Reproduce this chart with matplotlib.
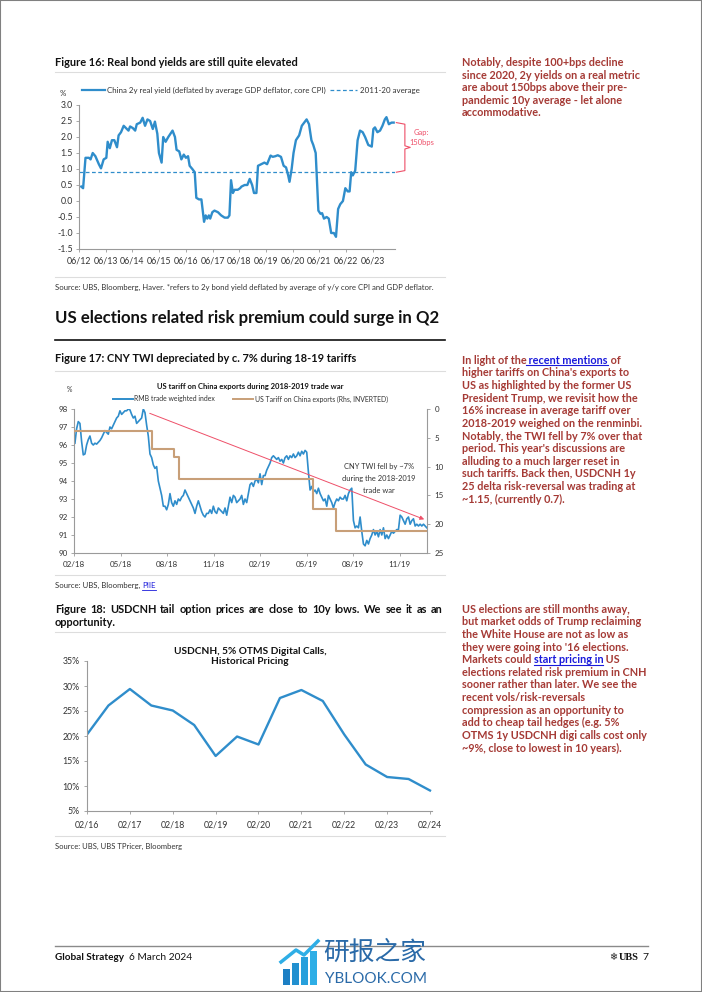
import matplotlib
matplotlib.use("Agg")
import matplotlib.pyplot as plt
import numpy as np
from matplotlib.lines import Line2D
from matplotlib.patches import Rectangle
from matplotlib.ticker import PercentFormatter

plt.rcParams['font.family'] = ['Lato', 'Noto Sans CJK SC', 'DejaVu Sans']
plt.rcParams['axes.unicode_minus'] = False

# ---------------------------------------------------------------------
# Data
# ---------------------------------------------------------------------
# Figure 16: China 2y real yield (%), decimal years
yield_dates = [2012.50, 2012.57, 2012.66, 2012.79, 2012.85, 2012.93, 2013.03, 2013.16, 2013.24,
               2013.34, 2013.44, 2013.49, 2013.57, 2013.65, 2013.74, 2013.84, 2013.90, 2013.99,
               2014.09, 2014.21, 2014.27, 2014.33, 2014.43, 2014.52, 2014.58, 2014.71, 2014.80,
               2014.89, 2014.98, 2015.08, 2015.18, 2015.26, 2015.35, 2015.41, 2015.51, 2015.57,
               2015.66, 2015.76, 2015.92, 2016.01, 2016.07, 2016.17, 2016.25, 2016.34, 2016.42,
               2016.50, 2016.56, 2016.66, 2016.75, 2016.81, 2016.91, 2017.00, 2017.10, 2017.16,
               2017.22, 2017.28, 2017.33, 2017.41, 2017.49, 2017.62, 2017.74, 2017.87, 2017.99,
               2018.05, 2018.11, 2018.18, 2018.24, 2018.36, 2018.45, 2018.50, 2018.62, 2018.72,
               2018.81, 2018.90, 2018.97, 2019.06, 2019.12, 2019.24, 2019.36, 2019.46, 2019.59,
               2019.67, 2019.77, 2019.86, 2019.98, 2020.08, 2020.17, 2020.25, 2020.30, 2020.38,
               2020.45, 2020.54, 2020.66, 2020.76, 2020.85, 2020.94, 2021.03, 2021.12, 2021.19,
               2021.28, 2021.38, 2021.46, 2021.52, 2021.59, 2021.69, 2021.77, 2021.86, 2021.96,
               2022.04, 2022.12, 2022.20, 2022.30, 2022.39, 2022.48, 2022.55, 2022.61, 2022.67,
               2022.76, 2022.85, 2022.94, 2023.04, 2023.13, 2023.25, 2023.38, 2023.44, 2023.50,
               2023.59, 2023.69, 2023.78, 2023.87, 2023.93, 2024.02, 2024.12, 2024.20]
yield_vals = [0.45, 0.40, 1.35, 1.35, 1.30, 1.50, 1.40, 1.15, 1.02,
              1.30, 1.35, 1.85, 1.65, 1.90, 1.90, 1.68, 2.05, 2.15,
              2.35, 2.25, 2.20, 2.33, 2.28, 2.20, 2.40, 2.45, 2.60,
              2.35, 2.55, 2.50, 2.25, 2.48, 2.10, 1.50, 1.20, 2.00,
              1.85, 2.00, 2.20, 2.00, 1.60, 1.55, 1.30, 1.45, 1.35,
              1.40, 1.10, 1.00, 0.90, 0.10, 0.05, 0.05, -0.65, -0.45,
              -0.55, -0.45, -0.55, -0.35, -0.30, -0.35, -0.45, -0.52, -0.52,
              -0.45, 0.65, 0.25, 0.35, 0.35, 0.40, 0.45, 0.50, 0.50,
              0.69, 0.50, 0.25, 0.25, 1.10, 1.15, 1.20, 1.15, 1.42,
              1.38, 1.40, 1.43, 1.38, 1.10, 1.05, 0.80, 0.60, 1.00,
              1.50, 1.90, 2.05, 2.35, 2.45, 2.55, 2.40, 1.90, 1.75,
              1.50, -0.30, -0.40, -0.38, -0.55, -0.50, -0.55, -1.00, -1.00,
              -1.12, -0.25, -0.10, 0.00, 0.40, 0.30, 0.30, 0.90, 0.80,
              0.95, 1.90, 2.20, 2.15, 2.00, 1.75, 1.70, 2.25, 2.30,
              2.15, 2.20, 2.35, 2.55, 2.62, 2.40, 2.45, 2.45]
avg_2011_20 = 0.9
yield_ticks = ['06/12', '06/13', '06/14', '06/15', '06/16', '06/17',
               '06/18', '06/19', '06/20', '06/21', '06/22', '06/23']

# Figure 17: RMB trade weighted index (evenly spaced observations)
twi_start, twi_end = 2018.088, 2019.979
twi_vals = [96.1, 96.9, 97.3, 97.2, 96.2, 95.45, 95.5, 96.0, 96.3, 96.5,
            96.1, 96.0, 96.1, 96.05, 96.15, 96.25, 96.4, 96.6, 96.8, 96.7,
            96.6, 97.0, 96.9, 97.1, 97.3, 97.5, 97.6, 97.9, 97.7, 97.8,
            97.9, 97.9, 98.0, 97.95, 97.7, 97.5, 97.6, 97.2, 97.3, 97.4,
            97.5, 98.0, 97.8, 97.1, 96.5, 95.5, 95.3, 94.9, 94.7, 94.8,
            94.0, 93.6, 93.2, 92.6, 92.6, 92.4, 92.7, 93.3, 92.8, 92.6,
            92.9, 92.7, 93.0, 92.9, 93.1, 93.2, 93.5, 93.3, 93.1, 92.9,
            92.7, 92.5, 92.2, 92.6, 92.9, 92.6, 92.3, 92.1, 92.0, 92.2,
            92.2, 92.4, 92.2, 92.6, 92.3, 92.2, 92.5, 92.4, 92.3, 92.2,
            92.5, 92.1, 92.6, 93.1, 92.8, 93.2, 93.1, 92.8, 92.9, 93.0,
            93.2, 92.7, 93.0, 92.8, 93.3, 93.8, 93.9, 93.7, 94.0,
            94.1, 93.9, 94.4, 93.8, 94.3, 94.3, 94.6, 94.8, 95.0, 95.3,
            95.4, 95.3, 95.2, 95.3, 95.1, 95.2, 95.0, 95.3, 95.4, 95.2,
            95.4, 95.3, 95.5, 95.3, 95.4, 95.6, 95.4, 95.65, 95.5, 95.7,
            95.6, 94.5, 93.5, 93.7, 93.4, 93.5, 93.3, 93.6, 93.3, 93.1,
            92.9, 93.0, 92.6, 93.2, 93.0, 92.8, 92.5, 92.8, 93.0, 92.9,
            93.1, 93.0, 93.0, 93.2, 92.9, 93.3, 93.5, 93.6, 91.8, 91.4,
            91.5, 91.4, 92.0, 91.2, 90.5, 90.4, 90.7, 90.5, 90.8, 91.0,
            91.3, 91.0, 91.2, 90.9, 91.3, 91.0, 91.4, 90.8, 91.0, 90.8,
            91.0, 91.2, 91.1, 91.2, 91.3, 91.3, 92.1, 92.0, 91.8, 91.6,
            91.9, 92.0, 91.6, 91.8, 91.9, 91.5, 91.6, 91.5, 91.6, 91.5,
            91.6, 91.5, 91.4]
# US tariff on China exports (%), step changes
tariff_dates = [2018.083, 2018.50, 2018.62, 2018.645, 2019.37, 2019.49, 2019.98]
tariff_vals = [3.8, 6.9, 8.3, 12.1, 17.4, 21.1, 21.1]
twi_ticks = ['02/18', '05/18', '08/18', '11/18', '02/19', '05/19', '08/19', '11/19']
trend_start = (2018.49, 97.76)
trend_end = (2019.965, 91.87)

# Figure 18: USDCNH 5% OTMS digital calls, historical pricing (%)
digi_dates = ['02/16', '08/16', '02/17', '08/17', '02/18', '08/18', '02/19', '08/19', '02/20',
              '08/20', '02/21', '08/21', '02/22', '08/22', '02/23', '08/23', '02/24']
digi_vals = [20.3, 26.1, 29.4, 26.1, 25.1, 22.2, 16.0, 19.9, 18.3,
             27.6, 29.2, 27.0, 20.3, 14.3, 11.8, 11.4, 9.1]
digi_ticks = ['02/16', '02/17', '02/18', '02/19', '02/20', '02/21', '02/22', '02/23', '02/24']

# ---------------------------------------------------------------------
# Page setup
# ---------------------------------------------------------------------
W, H = 702, 992
fig = plt.figure(figsize=(W / 100, H / 100), dpi=100)
renderer = fig.canvas.get_renderer()

BLUE = '#2f8dcb'
TAN = '#c89f78'
RED_TXT = '#a53a35'
LINK = '#1a1adb'
PINK = '#ee4f68'
AXIS_GREY = '#9a9a9a'
LABEL = '#333333'


def to_year(label):
    m, y = label.split('/')
    return 2000 + int(y) + (int(m) - 1) / 12


def fx(px):
    return px / W


def fy(py):
    return 1 - py / H


def box(x0, y0, x1, y1):
    return [x0 / W, 1 - y1 / H, (x1 - x0) / W, (y1 - y0) / H]


def raw_w(s, size, weight='normal', family=None):
    kw = {'family': family} if family else {}
    t = fig.text(0, 0, s, fontsize=size, fontweight=weight, **kw)
    w = t.get_window_extent(renderer).width
    t.remove()
    return w


def fit(s, width, weight='normal', family=None):
    return 10 * width / raw_w(s, 10, weight, family)


def put(x, y, s, size, **kw):
    kw.setdefault('va', 'center')
    return fig.text(fx(x), fy(y), s, fontsize=size, **kw)


def hline(x0, x1, y, color, lw):
    fig.add_artist(Line2D([fx(x0), fx(x1)], [fy(y), fy(y)], color=color, lw=lw,
                          transform=fig.transFigure))


def rich_line(x0, yb, parts, size):
    # parts: (text, color, underlined)
    base = raw_w('|', size, 'bold')
    prefix = ''
    for s, color, link in parts:
        xs = x0 + raw_w(prefix + '|', size, 'bold') - base if prefix else x0
        fig.text(fx(xs), fy(yb), s, fontsize=size, fontweight='bold', color=color, va='baseline')
        if link:
            xe = x0 + raw_w(prefix + s + '|', size, 'bold') - base
            hline(xs, xe, yb + 1.6, color, 0.8)
        prefix += s


def justified(x0, x1, y, s, size, weight='bold'):
    words = s.split(' ')
    widths = [raw_w(w, size, weight) for w in words]
    gap = (x1 - x0 - sum(widths)) / (len(words) - 1)
    x = x0
    for w, wd in zip(words, widths):
        put(x, y, w, size, fontweight=weight, color='#111111')
        x += wd + gap


def style_axes(ax, labelsize):
    for side in ['top', 'right']:
        ax.spines[side].set_visible(False)
    for side in ['left', 'bottom']:
        ax.spines[side].set_color(AXIS_GREY)
        ax.spines[side].set_linewidth(0.8)
    ax.tick_params(length=2.5, width=0.6, color=AXIS_GREY, labelsize=labelsize,
                   labelcolor=LABEL, pad=2)
    ax.patch.set_alpha(0)


# page frame
fig.add_artist(Rectangle((0, 0), 1, 1, transform=fig.transFigure, fill=False,
                         ec='#808080', lw=1.5))

# ---------------------------------------------------------------------
# Figure 16
# ---------------------------------------------------------------------
fig_title_size = fit('Figure 16: Real bond yields are still quite elevated', 243, 'bold')
put(55, 62, 'Figure 16: Real bond yields are still quite elevated', fig_title_size,
    fontweight='bold', color='#111111')
hline(55, 445, 72, '#dddddd', 0.8)

leg_size = fit('China 2y real yield (deflated by average GDP deflator, core CPI)', 220)
put(60, 93, '%', leg_size, color=LABEL)
fig.add_artist(Line2D([fx(82), fx(105)], [fy(90), fy(90)], color=BLUE, lw=1.6,
                      transform=fig.transFigure))
put(107, 90, 'China 2y real yield (deflated by average GDP deflator, core CPI)', leg_size,
    color=LABEL)
fig.add_artist(Line2D([fx(330), fx(357)], [fy(90), fy(90)], color=BLUE, lw=0.9,
                      ls=(0, (3, 2)), transform=fig.transFigure))
put(360, 90, '2011-20 average', leg_size, color=LABEL)

ax1 = fig.add_axes(box(79, 105, 395, 249))
ax1.plot(yield_dates, yield_vals, color=BLUE, lw=1.7, solid_joinstyle='round')
ax1.axhline(avg_2011_20, color=BLUE, lw=0.9, ls=(0, (3, 2)))
ax1.set_xlim(2012.5, 2024.25)
ax1.set_ylim(-1.5, 3.0)
ax1.set_yticks(np.arange(-1.5, 3.01, 0.5))
ax1.set_yticklabels([f'{v:.1f}' for v in np.arange(-1.5, 3.01, 0.5)])
ax1.set_xticks([to_year(t) for t in yield_ticks])
ax1.set_xticklabels(yield_ticks)
style_axes(ax1, 6.3)
ax1.tick_params(axis='x', pad=3)

# gap bracket between latest value and the 2011-20 average
gap_top = yield_vals[-1]
gap_mid = (gap_top + avg_2011_20) / 2
bx0, bx1, bxm = 2024.30, 2024.62, 2024.82
ax1.plot([bx0, bx1, bx1, bxm, bx1, bx1, bx0],
         [gap_top, gap_top - 0.05, gap_mid + 0.05, gap_mid, gap_mid - 0.05,
          avg_2011_20 + 0.05, avg_2011_20],
         color=PINK, lw=0.8, clip_on=False)
gap_size = fit('150bps', 25)
put(421.7, 132.5, 'Gap:', gap_size, color=PINK, ha='center')
put(421.7, 142.5, '150bps', gap_size, color=PINK, ha='center')

src_size = fit('Source: UBS, Bloomberg, Haver. *refers to 2y bond yield deflated by average of '
               'y/y core CPI and GDP deflator.', 380)
hline(55, 445, 277, '#dddddd', 0.8)
put(55, 287, 'Source: UBS, Bloomberg, Haver. *refers to 2y bond yield deflated by average of '
    'y/y core CPI and GDP deflator.', src_size, color=LABEL)

# ---------------------------------------------------------------------
# Section heading
# ---------------------------------------------------------------------
head = 'US elections related risk premium could surge in Q2'
put(55, 318, head, fit(head, 388, 'bold'), fontweight='bold', color='#111111')
hline(55, 445, 340, '#111111', 1.2)

# ---------------------------------------------------------------------
# Figure 17
# ---------------------------------------------------------------------
put(55, 359, 'Figure 17: CNY TWI depreciated by c. 7% during 18-19 tariffs', fig_title_size,
    fontweight='bold', color='#111111')
hline(55, 445, 371, '#dddddd', 0.8)

ct = 'US tariff on China exports during 2018-2019 trade war'
put(250, 387, ct, fit(ct, 186, 'bold'), fontweight='bold', color='#111111', ha='center')
leg17 = fit('US Tariff on China exports (Rhs, INVERTED)', 134)
put(67, 389, '%', leg17, color=LABEL)
fig.add_artist(Line2D([fx(113), fx(133)], [fy(399), fy(399)], color=BLUE, lw=1.4,
                      transform=fig.transFigure))
put(134.5, 399, 'RMB trade weighted index', leg17, color=LABEL)
fig.add_artist(Line2D([fx(233), fx(253)], [fy(399), fy(399)], color=TAN, lw=1.4,
                      transform=fig.transFigure))
put(254.5, 399, 'US Tariff on China exports (Rhs, INVERTED)', leg17, color=LABEL)

ax2 = fig.add_axes(box(74, 409, 427, 553))
twi_x = np.linspace(twi_start, twi_end, len(twi_vals))
ax2.plot(twi_x, twi_vals, color=BLUE, lw=1.2)
ax2.annotate('', xy=trend_end, xytext=trend_start,
             arrowprops=dict(arrowstyle='-|>', color=PINK, lw=0.7, mutation_scale=6,
                             shrinkA=0, shrinkB=0))
ax2.set_xlim(2018.083, 2019.98)
ax2.set_ylim(90, 98)
ax2.set_yticks(range(90, 99))
ax2.set_xticks([to_year(t) for t in twi_ticks])
ax2.set_xticklabels(twi_ticks)
style_axes(ax2, 5.8)
ax2.tick_params(axis='x', pad=3)

ax2r = ax2.twinx()
ax2r.step(tariff_dates, tariff_vals, where='post', color=TAN, lw=1.5)
ax2r.set_ylim(25, 0)
ax2r.set_yticks(range(0, 26, 5))
for side in ['top', 'left']:
    ax2r.spines[side].set_visible(False)
ax2r.spines['bottom'].set_visible(False)
ax2r.spines['right'].set_color(AXIS_GREY)
ax2r.spines['right'].set_linewidth(0.8)
ax2r.tick_params(length=2.5, width=0.6, color=AXIS_GREY, labelsize=5.8, labelcolor=LABEL, pad=3)

ann = fit('during the 2018-2019', 73)
for i, line in enumerate(['CNY TWI fell by ~7%', 'during the 2018-2019', 'trade war']):
    put(379, 467 + 11.8 * i, line, ann, color=LABEL, ha='center')

hline(55, 445, 575, '#dddddd', 0.8)
s17 = fit('Source: UBS, Bloomberg, PIIE', 100)
t = put(55, 585, 'Source: UBS, Bloomberg, ', s17, color=LABEL)
xp = 55 + raw_w('Source: UBS, Bloomberg, |', s17) - raw_w('|', s17)
put(xp, 585, 'PIIE', s17, color=LINK)
hline(xp, xp + raw_w('PIIE', s17), 589.5, LINK, 0.6)

# ---------------------------------------------------------------------
# Figure 18
# ---------------------------------------------------------------------
justified(55, 443, 609.5, 'Figure 18: USDCNH tail option prices are close to 10y lows. '
          'We see it as an', fig_title_size)
put(55, 622.5, 'opportunity.', fig_title_size, fontweight='bold', color='#111111')
hline(55, 445, 632, '#dddddd', 0.8)

t18 = fit('USDCNH, 5% OTMS Digital Calls,', 153, 'bold')
put(250, 651, 'USDCNH, 5% OTMS Digital Calls,', t18, fontweight='bold', color='#111111',
    ha='center')
put(250, 662, 'Historical Pricing', t18, fontweight='bold', color='#111111', ha='center')

ax3 = fig.add_axes(box(87, 661, 432, 811))
ax3.plot([to_year(d) for d in digi_dates], np.array(digi_vals) / 100, color=BLUE, lw=1.7,
         solid_joinstyle='round')
ax3.set_xlim(to_year('02/16'), 2024.13)
ax3.set_ylim(0.05, 0.35)
ax3.set_yticks(np.arange(0.05, 0.351, 0.05))
ax3.yaxis.set_major_formatter(PercentFormatter(1, decimals=0))
ax3.set_xticks([to_year(t) for t in digi_ticks])
ax3.set_xticklabels(digi_ticks)
style_axes(ax3, 6.3)
ax3.tick_params(axis='x', pad=4)
ax3.tick_params(axis='y', pad=3)

hline(55, 445, 836, '#dddddd', 0.8)
s18 = 'Source: UBS, UBS TPricer, Bloomberg'
put(55, 846.5, s18, fit(s18, 127), color=LABEL)

# ---------------------------------------------------------------------
# Commentary column
# ---------------------------------------------------------------------
para = fit('Notably, despite 100+bps decline', 162, 'bold')
LINE_H = 12.65
block1 = ['Notably, despite 100+bps decline',
          'since 2020, 2y yields on a real metric',
          'are about 150bps above their pre-',
          'pandemic 10y average - let alone',
          'accommodative.']
block2 = [[('In light of the', RED_TXT, False), (' recent mentions', LINK, True), (' of', RED_TXT, False)],
          "higher tariffs on China's exports to",
          'US as highlighted by the former US',
          'President Trump, we revisit how the',
          '16% increase in average tariff over',
          '2018-2019 weighed on the renminbi.',
          'Notably, the TWI fell by 7% over that',
          "period. This year's discussions are",
          'alluding to a much larger reset in',
          'such tariffs. Back then, USDCNH 1y',
          '25 delta risk-reversal was trading at',
          '~1.15, (currently 0.7).']
block3 = ['US elections are still months away,',
          'but market odds of Trump reclaiming',
          'the White House are not as low as',
          "they were going into '16 elections.",
          [('Markets could ', RED_TXT, False), ('start pricing in', LINK, True), (' US', RED_TXT, False)],
          'elections related risk premium in CNH',
          'sooner rather than later. We see the',
          'recent vols/risk-reversals',
          'compression as an opportunity to',
          'add to cheap tail hedges (e.g. 5%',
          'OTMS 1y USDCNH digi calls cost only',
          '~9%, close to lowest in 10 years).']

for top, block in [(62.3, block1), (360, block2), (609, block3)]:
    for i, line in enumerate(block):
        yb = top + i * LINE_H + 3.6
        if isinstance(line, list):
            rich_line(461.5, yb, line, para)
        else:
            put(461.5, yb, line, para, fontweight='bold', color=RED_TXT, va='baseline')

# ---------------------------------------------------------------------
# Footer
# ---------------------------------------------------------------------
hline(55, 648, 946, '#8a8a8a', 1.0)
fs = fit('Global Strategy', 69, 'bold')
put(55, 957, 'Global Strategy', fs, fontweight='bold', color='#111111')
put(129, 957, '6 March 2024', fit('6 March 2024', 63), color='#111111')
put(609, 957, '\u2744', 7, color='#222222', family=['DejaVu Sans'])
put(619, 957, 'UBS', 7.5, color='#111111', family=['Liberation Serif'], fontweight='bold')
put(642, 957, '7', 7.5, color='#111111')

# watermark
for i, (bx, bh) in enumerate([(283, 16), (292, 22), (301, 28), (310, 34)]):
    fig.add_artist(Rectangle((fx(bx), fy(985)), 6.5 / W, bh / H, transform=fig.transFigure,
                             color=['#1c7fc4', '#2290d0', '#28a0dc', '#2eaee6'][i], lw=0))
fig.add_artist(Line2D([fx(281), fx(296), fx(304), fx(318)], [fy(962), fy(950), fy(955), fy(941)],
                      color='#2eaee6', lw=2.5, transform=fig.transFigure))
wm = fit('研报之家', 103, family=['Noto Sans CJK SC'])
put(323, 953, '研报之家', wm, color='#2a6aa8', family=['Noto Sans CJK SC'])
put(325, 979, 'YBLOOK.COM', fit('YBLOOK.COM', 101), color='#2a6aa8')

fig.savefig('out.png', dpi=100)
